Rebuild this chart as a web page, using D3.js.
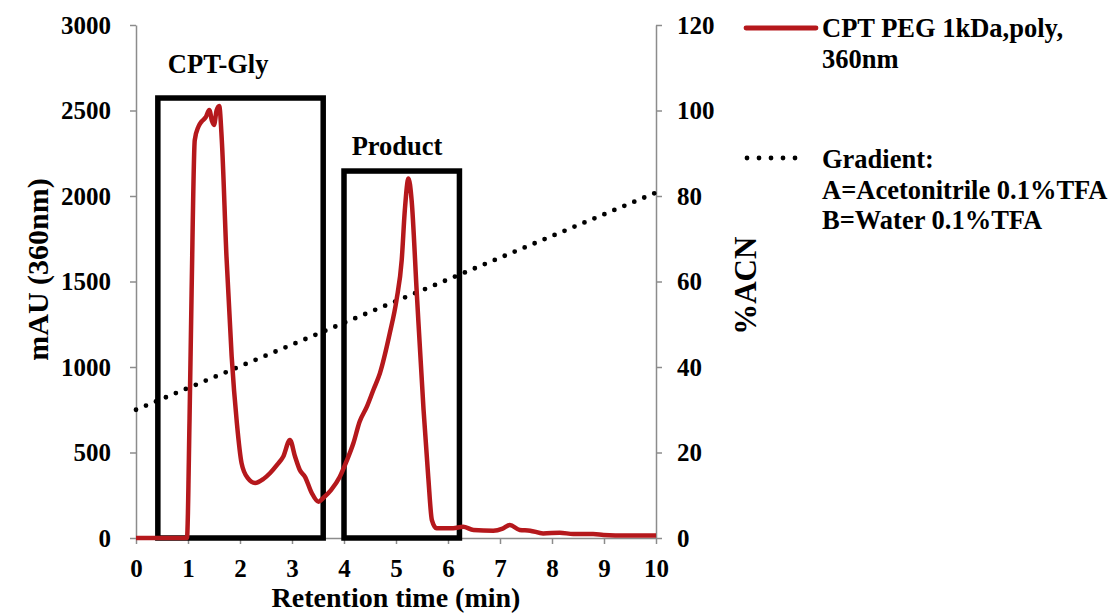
<!DOCTYPE html>
<html>
<head>
<meta charset="utf-8">
<script src="https://cdn.jsdelivr.net/npm/d3@7"></script>
<style>
  body { margin: 0; background: #fff; }
  svg text { font-family: "Liberation Serif", "Times New Roman", serif; font-weight: bold; fill: #000; }
</style>
</head>
<body>
<div id="chart"></div>
<script>
// HPLC trace
const timeMin = [0, 0.5, 0.98, 1.03, 1.07, 1.13, 1.2, 1.26, 1.34, 1.41, 1.46, 1.5, 1.55, 1.6, 1.65, 1.74, 1.84, 1.94, 2.03, 2.15, 2.29, 2.45, 2.58, 2.72, 2.83, 2.96, 3.06, 3.15, 3.25, 3.38, 3.51, 3.6, 3.75, 3.92, 4.05, 4.18, 4.3, 4.44, 4.57, 4.69, 4.88, 5.01, 5.11, 5.17, 5.24, 5.3, 5.4, 5.53, 5.62, 5.69, 5.78, 6.1, 6.29, 6.49, 6.87, 7.05, 7.19, 7.38, 7.58, 7.83, 8.15, 8.41, 8.79, 8.99, 9.44, 10];
const mAU = [0, 0, 0, 700, 1450, 2327, 2405, 2435, 2460, 2503, 2440, 2415, 2500, 2526, 2327, 1645, 1060, 672, 438, 350, 322, 345, 380, 430, 475, 573, 475, 398, 358, 263, 212, 234, 280, 358, 450, 554, 680, 768, 870, 963, 1197, 1392, 1626, 1918, 2103, 1977, 1431, 749, 358, 105, 57, 57, 66, 47, 43, 55, 76, 47, 43, 27, 31, 23, 23, 18, 14, 14];

// gradient (%ACN, right axis)
const gradTime = [0, 10];
const gradACN = [30, 80.8];

// annotation boxes [x0, x1, top mAU] and their labels
const boxNames = ["CPT-Gly", "Product"];
const boxX0 = [0.42, 4.0];
const boxX1 = [3.6, 6.22];
const boxTop = [2573, 2146];
const labelX = [1.58, 5.02];
const labelY = [2719, 2240];

const xTicks = d3.range(0, 11);
const yTicks = d3.range(0, 3001, 500);
const y2Ticks = d3.range(0, 121, 20);

const width = 1112, height = 613;
const margin = { left: 136, right: 456, top: 25, bottom: 75 };
const red = "#b5181c";

const svg = d3.select("#chart").append("svg")
    .attr("width", width)
    .attr("height", height);

const x = d3.scaleLinear().domain([0, 10]).range([margin.left, width - margin.right]);
const y = d3.scaleLinear().domain([0, 3000]).range([height - margin.bottom, margin.top]);
const y2 = d3.scaleLinear().domain([0, 120]).range([height - margin.bottom, margin.top]);

// axes
const gx = svg.append("g")
    .attr("transform", `translate(0,${y(0)})`)
    .call(d3.axisBottom(x).tickValues(xTicks).tickFormat(d3.format("d")).tickSize(6).tickSizeOuter(0).tickPadding(15));
const gy = svg.append("g")
    .attr("transform", `translate(${x(0)},0)`)
    .call(d3.axisLeft(y).tickValues(yTicks).tickFormat(d3.format("d")).tickSize(6).tickSizeOuter(0).tickPadding(19));
const gy2 = svg.append("g")
    .attr("transform", `translate(${x(10)},0)`)
    .call(d3.axisRight(y2).tickValues(y2Ticks).tickFormat(d3.format("d")).tickSize(6).tickSizeOuter(0).tickPadding(15));

[gx, gy, gy2].forEach(g => {
    g.selectAll("path, line").attr("stroke", "#8c8c8c").attr("stroke-width", 1.5);
    g.selectAll("text").style("font-size", "25px").attr("fill", "#000");
});

// axis titles
svg.append("text")
    .attr("x", x(5)).attr("y", 607)
    .attr("text-anchor", "middle")
    .style("font-size", "28px")
    .text("Retention time (min)");

svg.append("text")
    .attr("transform", `translate(48,${y(1570)}) rotate(-90)`)
    .attr("text-anchor", "middle")
    .style("font-size", "30px")
    .text("mAU (360nm)");

svg.append("text")
    .attr("transform", `translate(756,${y2(59)}) rotate(-90)`)
    .attr("text-anchor", "middle")
    .style("font-size", "31px")
    .text("%ACN");

// boxes
const boxes = boxNames.map((n, i) => ({ name: n, x0: boxX0[i], x1: boxX1[i], top: boxTop[i], lx: labelX[i], ly: labelY[i] }));
svg.append("g")
    .selectAll("rect")
    .data(boxes)
    .join("rect")
    .attr("x", d => x(d.x0))
    .attr("y", d => y(d.top))
    .attr("width", d => x(d.x1) - x(d.x0))
    .attr("height", d => y(0) - y(d.top))
    .attr("fill", "none")
    .attr("stroke", "#000")
    .attr("stroke-width", 5.5);

svg.append("g")
    .selectAll("text")
    .data(boxes)
    .join("text")
    .attr("x", d => x(d.lx))
    .attr("y", d => y(d.ly))
    .attr("text-anchor", "middle")
    .style("font-size", "26.5px")
    .text(d => d.name);

// gradient dotted line
const grad = gradTime.map((t, i) => [t, gradACN[i]]);
svg.append("path")
    .datum(grad)
    .attr("fill", "none")
    .attr("stroke", "#000")
    .attr("stroke-width", 4.8)
    .attr("stroke-linecap", "round")
    .attr("stroke-dasharray", "0 10.8")
    .attr("d", d3.line().x(d => x(d[0])).y(d => y2(d[1])));

// chromatogram
const trace = timeMin.map((t, i) => [t, mAU[i]]);
svg.append("path")
    .datum(trace)
    .attr("fill", "none")
    .attr("stroke", red)
    .attr("stroke-width", 4.5)
    .attr("stroke-linejoin", "round")
    .attr("d", d3.line().curve(d3.curveMonotoneX).x(d => x(d[0])).y(d => y(d[1])));

// legend
const lg = svg.append("g");
lg.append("line")
    .attr("x1", 746).attr("x2", 816).attr("y1", 28).attr("y2", 28)
    .attr("stroke", red).attr("stroke-width", 4.8).attr("stroke-linecap", "round");
lg.append("text").attr("x", 822).attr("y", 37).style("font-size", "26.5px").text("CPT PEG 1kDa,poly,");
lg.append("text").attr("x", 822).attr("y", 68).style("font-size", "26.5px").text("360nm");

lg.append("line")
    .attr("x1", 747).attr("x2", 807).attr("y1", 158).attr("y2", 158)
    .attr("stroke", "#000").attr("stroke-width", 4.8)
    .attr("stroke-linecap", "round").attr("stroke-dasharray", "0 12");
lg.append("text").attr("x", 822).attr("y", 168).style("font-size", "26.5px").text("Gradient:");
lg.append("text").attr("x", 822).attr("y", 199).style("font-size", "26.5px").text("A=Acetonitrile 0.1%TFA");
lg.append("text").attr("x", 822).attr("y", 229).style("font-size", "26.5px").text("B=Water 0.1%TFA");
</script>
</body>
</html>
